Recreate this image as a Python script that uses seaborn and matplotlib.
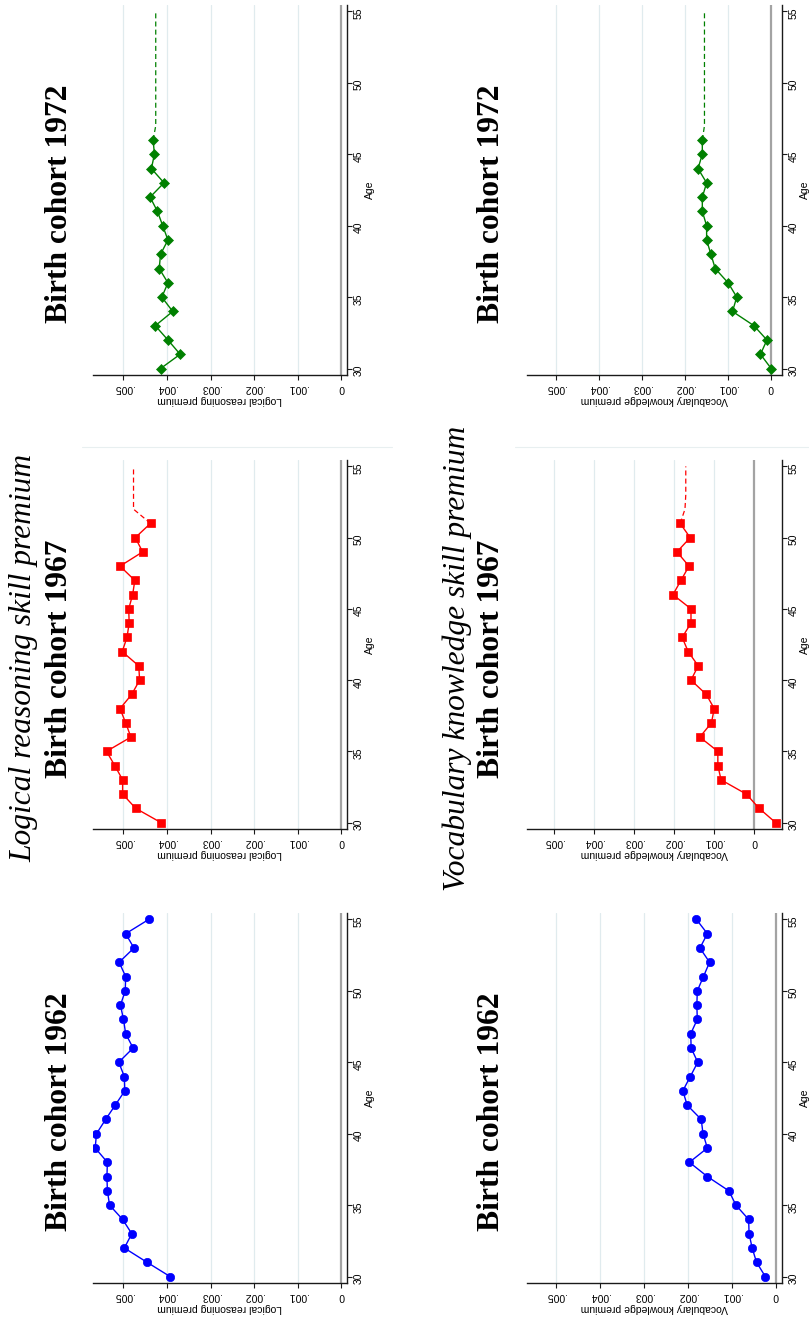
import matplotlib
matplotlib.use("Agg")
import matplotlib.pyplot as plt
from matplotlib.lines import Line2D
import seaborn as sns
import pandas as pd

# ---- data -------------------------------------------------------------
ages_1962 = list(range(30, 56))
ages_1967 = list(range(30, 52))
ages_1972 = list(range(30, 47))

logic_1962 = [.00393, .00446, .00498, .00481, .00502, .00532, .00537, .00538, .00537,
              .00565, .00562, .00541, .00519, .00497, .00498, .00511, .00478, .00495,
              .00500, .00507, .00496, .00495, .00510, .00476, .00495, .00442]
logic_1967 = [.00414, .00472, .00502, .00502, .00520, .00539, .00483, .00495, .00508,
              .00481, .00463, .00465, .00503, .00492, .00487, .00488, .00479, .00474,
              .00508, .00456, .00473, .00438]
logic_1972 = [.00415, .00370, .00398, .00427, .00387, .00412, .00398, .00418, .00415,
              .00398, .00410, .00422, .00439, .00407, .00436, .00429, .00432]

vocab_1962 = [.00024, .00044, .00054, .00061, .00062, .00091, .00107, .00156, .00197,
              .00156, .00166, .00170, .00202, .00212, .00195, .00178, .00193, .00194,
              .00179, .00180, .00179, .00165, .00151, .00173, .00156, .00181]
vocab_1967 = [-.00053, -.00012, .00020, .00083, .00091, .00091, .00136, .00107, .00100,
              .00120, .00158, .00140, .00165, .00180, .00158, .00158, .00203, .00183,
              .00163, .00193, .00160, .00185]
vocab_1972 = [.00000, .00025, .00010, .00040, .00090, .00080, .00100, .00130, .00140,
              .00150, .00150, .00160, .00160, .00150, .00170, .00160, .00160]

# projected premium beyond the last observed age (dashed)
proj_ages_1967 = [51, 52, 53, 54, 55]
proj_logic_1967 = [.00438, .00477, .00477, .00477, .00477]
proj_vocab_1967 = [.00185, .00173, .00171, .00171, .00171]
proj_ages_1972 = [46, 47, 48, 49, 50, 51, 52, 53, 54, 55]
proj_logic_1972 = [.00432] + [.00426] * 9
proj_vocab_1972 = [.00160] + [.00155] * 9

premium_ticks = [0, .001, .002, .003, .004, .005]
premium_labels = ["0", ".001", ".002", ".003", ".004", ".005"]
age_ticks = [30, 35, 40, 45, 50, 55]
cohorts = ["1962", "1967", "1972"]

# ---- style ------------------------------------------------------------
sns.set_theme(style="white")
plt.rcParams["font.family"] = ["Liberation Sans", "DejaVu Sans"]
plt.rcParams.update({"text.color": "black", "axes.labelcolor": "black",
                     "xtick.color": "black", "ytick.color": "black"})

W, H = 809, 1321
fig = plt.figure(figsize=(W / 100, H / 100), dpi=100)
fig.patch.set_facecolor("white")

colors = {"1962": "#0000ff", "1967": "#ff0000", "1972": "#008000"}
markers = {"1962": "o", "1967": "s", "1972": "D"}
msizes = {"1962": 6, "1967": 6, "1972": 5.5}

# panel rectangles in pixels: (left, right) columns and (top, bottom) rows
cols = {"logic": (93, 347), "vocab": (527, 782)}
rows = {"1972": (5, 375), "1967": (460, 829), "1962": (913, 1283)}
lower = {("logic", "1962"): -.00013, ("logic", "1967"): -.00013, ("logic", "1972"): -.00013,
         ("vocab", "1962"): -.00014, ("vocab", "1967"): -.00069, ("vocab", "1972"): -.00025}
upper = {"logic": .0057, "vocab": .00567}

series = {
    ("logic", "1962"): (ages_1962, logic_1962, None, None),
    ("logic", "1967"): (ages_1967, logic_1967, proj_ages_1967, proj_logic_1967),
    ("logic", "1972"): (ages_1972, logic_1972, proj_ages_1972, proj_logic_1972),
    ("vocab", "1962"): (ages_1962, vocab_1962, None, None),
    ("vocab", "1967"): (ages_1967, vocab_1967, proj_ages_1967, proj_vocab_1967),
    ("vocab", "1972"): (ages_1972, vocab_1972, proj_ages_1972, proj_vocab_1972),
}
xlabels = {"logic": "Logical reasoning premium", "vocab": "Vocabulary knowledge premium"}

for (skill, coh), (ages, vals, pages, pvals) in series.items():
    l, r = cols[skill]
    t, b = rows[coh]
    ax = fig.add_axes([l / W, 1 - b / H, (r - l) / W, (b - t) / H])
    ax.set_facecolor("white")
    c = colors[coh]

    for gx in premium_ticks[1:]:
        ax.axvline(gx, color="#e0ebee", lw=0.9, zorder=0)
    ax.axvline(0, color="#a3a3a3", lw=1.6, zorder=1)

    df = pd.DataFrame({"age": ages, "premium": vals})
    sns.lineplot(data=df, x="premium", y="age", orient="y", estimator=None, sort=True,
                 color=c, lw=1.0, marker=markers[coh], markersize=msizes[coh],
                 markeredgecolor=c, markeredgewidth=0.5, ax=ax, zorder=3)
    if pages is not None:
        dp = pd.DataFrame({"age": pages, "premium": pvals})
        sns.lineplot(data=dp, x="premium", y="age", orient="y", estimator=None, sort=True,
                     color=c, lw=0.9, linestyle=(0, (4, 2.5)), ax=ax, zorder=2)

    ax.set_xlim(upper[skill], lower[(skill, coh)])
    ax.set_ylim(29.55, 55.45)

    ax.set_xticks(premium_ticks)
    ax.set_xticklabels(premium_labels)
    ax.set_yticks(age_ticks)
    ax.yaxis.tick_right()
    ax.yaxis.set_label_position("right")

    for side in ["top", "left"]:
        ax.spines[side].set_visible(False)
    for side in ["bottom", "right"]:
        ax.spines[side].set_color("#1a1a1a")
        ax.spines[side].set_linewidth(1.0)

    ax.tick_params(axis="x", bottom=True, direction="out", length=3.5, width=0.8,
                   color="#1a1a1a", labelsize=7.5, labelrotation=180, pad=2)
    ax.tick_params(axis="y", right=True, left=False, direction="out", length=3.5,
                   width=0.8, color="#1a1a1a", labelsize=7.5, labelrotation=90, pad=1.5)
    ax.set_xlabel(xlabels[skill], fontsize=7.5, rotation=180, labelpad=2)
    ax.set_ylabel("Age", fontsize=7.5, rotation=90, labelpad=1)
    ax.grid(False)

# faint outline at the edge of the middle row of graphs
for x0, x1 in [(82, 392), (515, 809)]:
    fig.add_artist(Line2D([x0 / W, x1 / W], [1 - 447 / H, 1 - 447 / H],
                          color="#e8eff0", lw=0.8))

# ---- titles -----------------------------------------------------------
serif = ["Liberation Serif", "DejaVu Serif"]
title_fs = 22.7
fig.text(24 / W, 1 - 658 / H, "Logical reasoning skill premium", rotation=90,
         ha="center", va="center", family=serif, style="italic", fontsize=title_fs)
fig.text(457 / W, 1 - 658 / H, "Vocabulary knowledge skill premium", rotation=90,
         ha="center", va="center", family=serif, style="italic", fontsize=title_fs)

for skill, cx in [("logic", 60), ("vocab", 491)]:
    for coh in cohorts:
        t, b = rows[coh]
        cy = (t + b) / 2 + 14
        fig.text(cx / W, 1 - cy / H, f"Birth cohort {coh}", rotation=90,
                 ha="center", va="center", family=serif, weight="bold", fontsize=title_fs)

fig.savefig("out.png", dpi=100, facecolor="white")
